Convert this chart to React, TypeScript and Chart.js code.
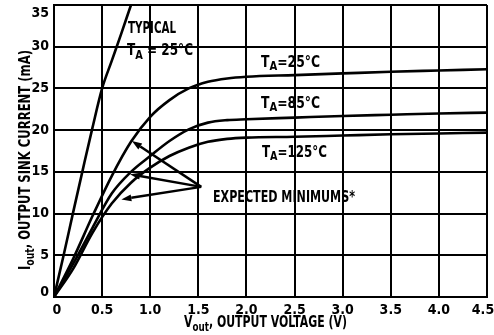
import React, { useEffect, useRef } from "react";
import { Chart, registerables } from "chart.js";

Chart.register(...registerables);

const FONT = '"Liberation Sans Narrow", "DejaVu Sans Condensed", "Arial Narrow", sans-serif';

// Typical curve, TA = 25°C
const vTypical = [0, 0.1, 0.2, 0.3, 0.4, 0.5, 0.6, 0.7, 0.8, 0.86];
const iTypical = [0, 5, 10.2, 15.3, 20.3, 25, 28.3, 31.6, 35, 37];

// Expected minimum curves
const vMin = [0, 0.2, 0.4, 0.6, 0.8, 1.0, 1.2, 1.4, 1.6, 1.8, 2.0, 2.5, 3.0, 3.5, 4.0, 4.5];
const iMin25 = [0, 4.6, 9.7, 14.5, 18.6, 21.6, 23.6, 25.0, 25.8, 26.2, 26.4, 26.6, 26.8, 27.0, 27.15, 27.3];
const iMin85 = [0, 4.0, 8.3, 12.4, 15.0, 16.9, 18.7, 20.1, 20.9, 21.2, 21.3, 21.5, 21.7, 21.85, 22.0, 22.1];
const iMin125 = [0, 3.4, 7.7, 11.2, 13.7, 15.5, 16.9, 17.9, 18.6, 18.95, 19.1, 19.2, 19.35, 19.5, 19.6, 19.7];

const xTicks = [0, 0.5, 1.0, 1.5, 2.0, 2.5, 3.0, 3.5, 4.0, 4.5];
const yTicks = [0, 5, 10, 15, 20, 25, 30, 35];

// arrow tips (V, mA) and common vertex
const arrowTips = [
  [0.81, 18.7],
  [0.79, 14.7],
  [0.7, 11.7],
];
const arrowVertex = [1.53, 13.2];

type Part = { t: string; sub?: boolean };

function drawParts(ctx: CanvasRenderingContext2D, parts: Part[], x: number, y: number, size: number, subSize: number, subDy: number) {
  let cx = x;
  for (const p of parts) {
    ctx.font = `bold ${p.sub ? subSize : size}px ${FONT}`;
    ctx.fillText(p.t, cx, p.sub ? y + subDy : y);
    cx += ctx.measureText(p.t).width;
  }
  return cx - x;
}

function measureParts(ctx: CanvasRenderingContext2D, parts: Part[], size: number, subSize: number) {
  let w = 0;
  for (const p of parts) {
    ctx.font = `bold ${p.sub ? subSize : size}px ${FONT}`;
    w += ctx.measureText(p.t).width;
  }
  return w;
}

// draw text squeezed horizontally to a target width (condensed look)
function drawFit(ctx: CanvasRenderingContext2D, parts: Part[], x: number, y: number, width: number, size: number, subSize: number, subDy: number) {
  const w = measureParts(ctx, parts, size, subSize);
  ctx.save();
  ctx.translate(x, y);
  ctx.scale(width / w, 1);
  drawParts(ctx, parts, 0, 0, size, subSize, subDy);
  ctx.restore();
}

const annotationPlugin = {
  id: "annot",
  afterDraw(chart: any) {
    const ctx: CanvasRenderingContext2D = chart.ctx;
    const xs = chart.scales.x;
    const ys = chart.scales.y;
    ctx.save();
    ctx.fillStyle = "#000";
    ctx.strokeStyle = "#000";
    ctx.textBaseline = "alphabetic";
    ctx.textAlign = "left";

    // curve labels
    drawFit(ctx, [{ t: "TYPICAL" }], 128, 33, 48, 16, 12, 4);
    drawFit(ctx, [{ t: "T" }, { t: "A", sub: true }, { t: " = 25°C" }], 127, 55, 66, 16, 13, 4);
    drawFit(ctx, [{ t: "T" }, { t: "A", sub: true }, { t: "=25°C" }], 261, 67, 59, 16, 13, 3);
    drawFit(ctx, [{ t: "T" }, { t: "A", sub: true }, { t: "=85°C" }], 261, 108, 59, 16, 13, 3);
    drawFit(ctx, [{ t: "T" }, { t: "A", sub: true }, { t: "=125°C" }], 262, 157, 65, 16, 13, 3);
    drawFit(ctx, [{ t: "EXPECTED MINIMUMS*" }], 213, 202, 142, 16, 12, 3);

    // arrows
    const vx = xs.getPixelForValue(arrowVertex[0]);
    const vy = ys.getPixelForValue(arrowVertex[1]);
    ctx.lineWidth = 2.5;
    for (const [a, b] of arrowTips) {
      const tx = xs.getPixelForValue(a);
      const ty = ys.getPixelForValue(b);
      const ang = Math.atan2(ty - vy, tx - vx);
      const hl = 10;
      const hw = 3.5;
      const bx = tx - hl * Math.cos(ang);
      const by = ty - hl * Math.sin(ang);
      ctx.beginPath();
      ctx.moveTo(vx, vy);
      ctx.lineTo(bx, by);
      ctx.stroke();
      ctx.beginPath();
      ctx.moveTo(tx, ty);
      ctx.lineTo(bx + hw * Math.sin(ang), by - hw * Math.cos(ang));
      ctx.lineTo(bx - hw * Math.sin(ang), by + hw * Math.cos(ang));
      ctx.closePath();
      ctx.fill();
    }

    // x axis title
    drawFit(ctx, [{ t: "V" }, { t: "out", sub: true }, { t: ", OUTPUT VOLTAGE (V)" }], 184, 327, 163, 15, 12, 4);

    // y axis title
    ctx.save();
    ctx.translate(30, 270);
    ctx.rotate(-Math.PI / 2);
    drawFit(ctx, [{ t: "I" }, { t: "out", sub: true }, { t: ", OUTPUT SINK CURRENT (mA)" }], 0, 0, 220, 15, 12, 4);
    ctx.restore();
    ctx.restore();
  },
};

const bgPlugin = {
  id: "bg",
  beforeDraw(chart: any) {
    const ctx = chart.ctx;
    ctx.save();
    ctx.fillStyle = "#fff";
    ctx.fillRect(0, 0, chart.width, chart.height);
    ctx.restore();
  },
};

const zeroPad = (s: any) => {
  s.paddingTop = 0;
  s.paddingBottom = 0;
  s.paddingLeft = 0;
  s.paddingRight = 0;
};

// nudge the end tick labels inward so they stay inside the canvas, as in the reference
const nudgeEnds = (s: any, axis: 0 | 1, first: number, last: number) => {
  if (s.__nudged) return;
  s.__nudged = true;
  const orig = s._computeLabelItems;
  if (typeof orig !== "function") return;
  s._computeLabelItems = function (area: any) {
    const items = orig.call(this, area);
    if (items && items.length) {
      const a = items[0].options.translation;
      const b = items[items.length - 1].options.translation;
      if (a) a[axis] += first;
      if (b) b[axis] += last;
    }
    return items;
  };
};

export default function App() {
  const ref = useRef<HTMLCanvasElement>(null);
  useEffect(() => {
    document.body.style.margin = "0";
    const toPts = (xs: number[], ys: number[]) => xs.map((x, i) => ({ x, y: ys[i] }));
    const ds = (data: any) => ({
      data,
      borderColor: "#000",
      borderWidth: 2.6,
      pointRadius: 0,
      showLine: true,
      fill: false,
      cubicInterpolationMode: "monotone" as const,
    });
    const chart = new Chart(ref.current!, {
      type: "scatter",
      data: {
        datasets: [
          ds(toPts(vTypical, iTypical)),
          ds(toPts(vMin, iMin25)),
          ds(toPts(vMin, iMin85)),
          ds(toPts(vMin, iMin125)),
        ],
      },
      options: {
        animation: false,
        responsive: false,
        events: [],
        layout: { padding: { left: 0, right: 7, top: 5, bottom: 0 } },
        plugins: { legend: { display: false }, tooltip: { enabled: false } },
        scales: {
          x: {
            type: "linear",
            min: 0,
            max: 4.5,
            afterFit: (s: any) => {
              s.height = 38;
              zeroPad(s);
              nudgeEnds(s, 0, 3, -4);
            },
            afterBuildTicks: (s: any) => {
              s.ticks = xTicks.map((v) => ({ value: v }));
            },
            ticks: {
              color: "#000",
              padding: 5,
              maxRotation: 0,
              autoSkip: false,
              font: { family: FONT, size: 14, weight: "bold" },
              callback: (v: any) => (v === 0 ? "0" : Number(v).toFixed(1)),
            },
            grid: { color: "#000", lineWidth: 2, drawTicks: false },
            border: { color: "#000", width: 2 },
          },
          y: {
            type: "linear",
            min: 0,
            max: 35,
            afterFit: (s: any) => {
              s.width = 54;
              zeroPad(s);
              nudgeEnds(s, 1, -5, 8);
            },
            afterBuildTicks: (s: any) => {
              s.ticks = yTicks.map((v) => ({ value: v }));
            },
            ticks: {
              color: "#000",
              padding: 5,
              autoSkip: false,
              font: { family: FONT, size: 14, weight: "bold" },
            },
            grid: { color: "#000", lineWidth: 2, drawTicks: false },
            border: { color: "#000", width: 2 },
          },
        },
      },
      plugins: [bgPlugin, annotationPlugin],
    });
    return () => chart.destroy();
  }, []);
  return (
    <div style={{ width: 494, height: 335 }}>
      <canvas ref={ref} width={494} height={335} style={{ display: "block" }} />
    </div>
  );
}
